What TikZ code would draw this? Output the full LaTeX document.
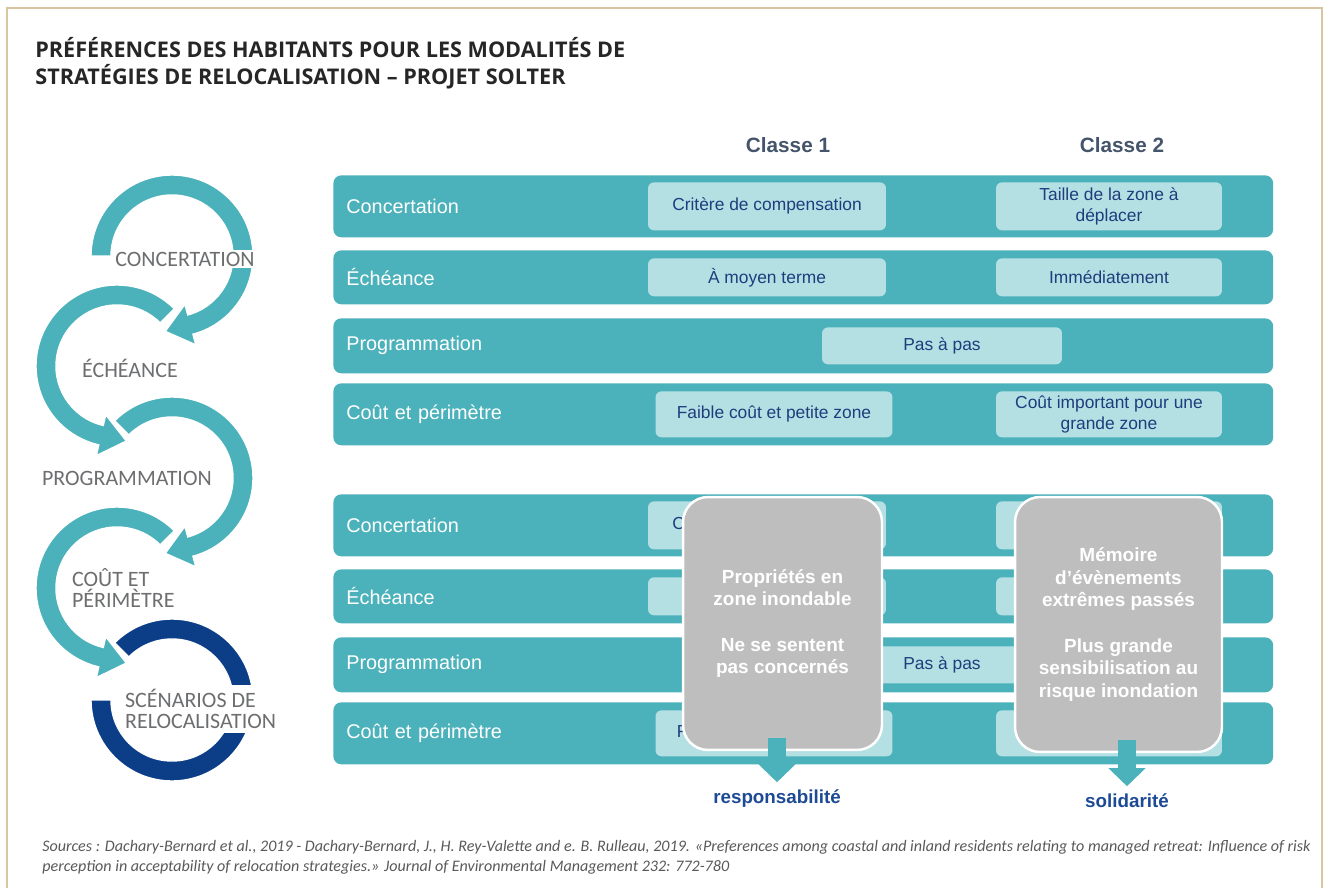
\documentclass[tikz,border=0pt]{standalone}
\usepackage{fontspec}
\setmainfont{Liberation Sans}
\newfontfamily\calibri{Carlito}
\newfontfamily\opensans{Open Sans}
\usetikzlibrary{positioning,arrows.meta,calc}
\definecolor{sarcelle}{HTML}{4BB1BA}
\definecolor{clair}{HTML}{B4E0E4}
\definecolor{marine}{HTML}{1F3D7C}
\definecolor{gris}{HTML}{BEBEBE}
\definecolor{bleufonce}{HTML}{0B3E86}
\definecolor{bleuissue}{HTML}{1D4A94}
\definecolor{ardoise}{HTML}{6D6E70}
\definecolor{classe}{HTML}{44546A}
\definecolor{cadre}{HTML}{D9C5A0}

% anneau flèché : couleur, centre, angle de départ, angle d'arrivée
\newcommand{\anneauhoraire}[4]{%
  \filldraw[anneau, fill=#1] ($#2+(#3:81)$) arc[start angle=#3, end angle=#4, radius=81]
    -- ($#2+(#4:92)$) -- ($#2+(#4:71)+(#4-90:26)$) -- ($#2+(#4:50)$)
    -- ($#2+(#4:61)$) arc[start angle=#4, end angle=#3, radius=61] -- cycle;}
\newcommand{\anneauanti}[4]{%
  \filldraw[anneau, fill=#1] ($#2+(#3:81)$) arc[start angle=#3, end angle=#4, radius=81]
    -- ($#2+(#4:92)$) -- ($#2+(#4:71)+(#4+90:26)$) -- ($#2+(#4:50)$)
    -- ($#2+(#4:61)$) arc[start angle=#4, end angle=#3, radius=61] -- cycle;}

\begin{document}
\begin{tikzpicture}[x=0.02cm, y=0.02cm,
      barre/.style={fill=sarcelle, rounded corners=0.16cm, anchor=north west,
                    minimum width=18.8cm, text width=18.28cm, inner xsep=0.26cm,
                    align=left, text=white, font=\fontsize{11.3}{13.5}\selectfont},
      choix/.style={fill=clair, rounded corners=0.12cm, text=marine, align=center,
                    inner sep=0pt, font=\fontsize{9.9}{11.9}\selectfont},
      grisbox/.style={fill=gris, draw=white, line width=1.4pt, rounded corners=0.5cm,
                    text=white, align=center, inner sep=0pt,
                    font=\bfseries\fontsize{10.8}{12.9}\selectfont},
      etiq/.style={text=ardoise, align=left, inner sep=1pt,
                    font=\calibri\fontsize{12.5}{12.4}\selectfont},
      anneau/.style={draw=white, line width=0.8pt},
      issue/.style={text=bleuissue, inner sep=0pt,
                    font=\bfseries\fontsize{10.7}{12.8}\selectfont},
      fleche/.style={draw=sarcelle, line width=0.36cm,
                    -{Triangle[width=0.72cm, length=0.36cm]}}]
    \useasboundingbox (0,0) rectangle (1325,-888);
    \draw[cadre, line width=1.1pt] (7,-888) -- (7,-8) -- (1322,-8) -- (1322,-888);

    \node[anchor=north west, align=left, inner sep=0pt, text=black!85,
          font=\opensans\bfseries\fontsize{12.3}{15.3}\selectfont] (titre) at (35,-37)
      {PRÉFÉRENCES DES HABITANTS POUR LES MODALITÉS DE\\
       STRATÉGIES DE RELOCALISATION – PROJET SOLTER};

    % les anneaux, du bas vers le haut
    \filldraw[anneau, fill=bleufonce] ($(172,-700)+(135:81)$) arc[start angle=135, end angle=-180, radius=81]
      -- ($(172,-700)+(180:61)$) arc[start angle=-180, end angle=135, radius=61] -- cycle;
    \anneauanti{sarcelle}{(117,-588)}{45}{257}
    \anneauhoraire{sarcelle}{(172,-478)}{135}{-75}
    \anneauanti{sarcelle}{(117,-366)}{45}{257}
    \anneauhoraire{sarcelle}{(172,-256)}{180}{-75}

    \node[etiq, fill=white] (concertation) at (185,-259) {CONCERTATION};
    \node[etiq, anchor=west] (echeance) at (80,-368) {ÉCHÉANCE};
    \node[etiq, anchor=west] (programmation) at (40,-478) {PROGRAMMATION};
    \node[etiq, anchor=west] (cout) at (70,-588) {COÛT ET\\PÉRIMÈTRE};
    \node[etiq, anchor=west, fill=white, inner ysep=0.08cm] (scenarios) at (123,-709)
      {SCÉNARIOS DE\\RELOCALISATION};

    \node[text=classe, font=\bfseries\fontsize{11.8}{14}\selectfont] (classe1) at (788,-145) {Classe 1};
    \node[text=classe, font=\bfseries\fontsize{11.8}{14}\selectfont] (classe2) at (1122,-145) {Classe 2};

    % deux fois les mêmes lignes (en bas, les cases cachées restent vides)
    \foreach \g/\dy/\ttaille/\tmoyen/\timmed in
        {h/0/{Taille de la zone à\\déplacer}/{À moyen terme}/{Immédiatement}, b/319/{}/{}/{}}{
      \node[barre, minimum height=1.24cm] (conc\g) at (333,-175-\dy) {Concertation};
      \node[barre, minimum height=1.08cm] (eche\g) at (333,-250-\dy) {Échéance};
      \node[barre, minimum height=1.1cm]  (prog\g) at (333,-318-\dy) {Programmation};
      \node[barre, minimum height=1.24cm] (cout\g) at (333,-383-\dy) {Coût et périmètre};

      \node[choix, minimum width=4.76cm, minimum height=0.96cm] (crit\g) at ($(conc\g.west)+(434,0)$) {Critère de compensation};
      \node[choix, minimum width=4.52cm, minimum height=0.96cm] (taille\g) at ($(conc\g.west)+(776,0)$) {\ttaille};
      \node[choix, minimum width=4.76cm, minimum height=0.76cm] (moyen\g) at ($(eche\g.west)+(434,0)$) {\tmoyen};
      \node[choix, minimum width=4.52cm, minimum height=0.76cm] (immed\g) at ($(eche\g.west)+(776,0)$) {\timmed};
      \node[choix, minimum width=4.8cm, minimum height=0.74cm] (pas\g) at ($(prog\g.west)+(609,0)$) {Pas à pas};
      \node[choix, minimum width=4.74cm, minimum height=0.92cm] (faible\g) at ($(cout\g.west)+(441,0)$) {Faible coût et petite zone};
      \node[choix, minimum width=4.52cm, minimum height=0.92cm] (import\g) at ($(cout\g.west)+(776,0)$) {Coût important pour une\\grande zone};
    }

    \node[grisbox, minimum width=3.98cm, minimum height=5.06cm] (gris1) at (782.5,-623.5)
      {Propriétés en\\zone inondable\\[12.9pt]Ne se sentent\\pas concernés};
    \node[grisbox, minimum width=4.14cm, minimum height=5.1cm] (gris2) at (1118.5,-624.5)
      {Mémoire\\d’évènements\\extrêmes passés\\[12.9pt]Plus grande\\sensibilisation au\\risque inondation};

    \node[issue, below=0.76cm of gris1, xshift=-0.11cm] (resp) {responsabilité};
    \node[issue, below=0.8cm of gris2, xshift=0.17cm] (soli) {solidarité};
    \draw[fleche] ($(resp.north |- gris1.south)+(0,13)$) -- ($(resp.north)+(0,7)$);
    \draw[fleche] ($(soli.north |- gris2.south)+(0,13)$) -- ($(soli.north)+(0,7)$);

    \node[anchor=north west, align=left, inner sep=0pt, text=black!65,
          font=\calibri\itshape\fontsize{9.15}{11.3}\selectfont] (sources) at (42,-840)
      {Sources : Dachary-Bernard et al., 2019 - Dachary-Bernard, J., H. Rey-Valette and e. B. Rulleau, 2019. «Preferences among coastal and inland residents relating to managed retreat: Influence of risk\\
       perception in acceptability of relocation strategies.» Journal of Environmental Management 232: 772-780};
  \end{tikzpicture}
\end{document}
